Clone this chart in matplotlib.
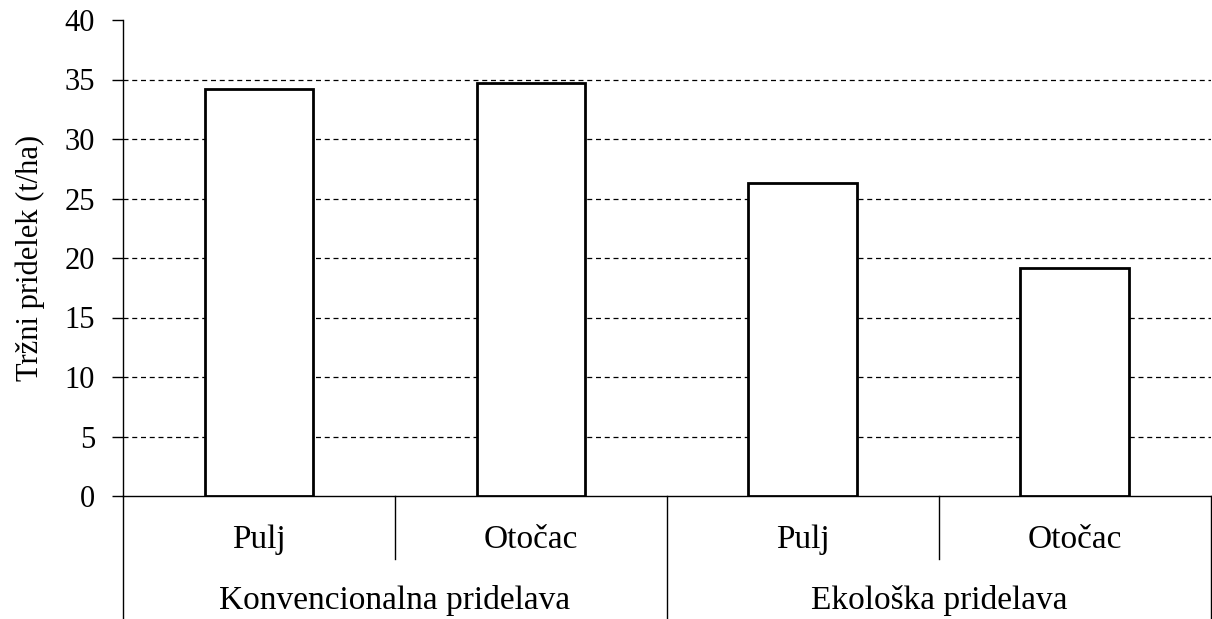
import matplotlib.pyplot as plt

plt.rcParams['font.family'] = ['Liberation Serif', 'DejaVu Serif']

groups = ['Konvencionalna pridelava', 'Ekološka pridelava']
locations = ['Pulj', 'Otočac', 'Pulj', 'Otočac']
yields = [34.2, 34.7, 26.3, 19.2]
y_ticks = [0, 5, 10, 15, 20, 25, 30, 35, 40]


def main():
    fig = plt.figure(figsize=(12.12, 6.19), dpi=100)
    ax = fig.add_axes([123 / 1212, 123 / 619, 1 - 123 / 1212 - 0.001, 476 / 619])

    x = list(range(len(yields)))
    ax.bar(x, yields, width=0.4, color='white', edgecolor='black', linewidth=2.0, zorder=3)

    ax.set_xlim(-0.5, len(yields) - 0.5)
    ax.set_ylim(0, 40)
    ax.set_yticks(y_ticks)
    ax.tick_params(axis='y', direction='out', length=8, width=1, labelsize=22, pad=12)
    ax.set_xticks([])
    for t in y_ticks[1:-1]:
        ax.axhline(t, color='black', linestyle=(0, (4, 3)), linewidth=0.9, zorder=1)

    for side in ['top', 'right']:
        ax.spines[side].set_visible(False)
    ax.spines['left'].set_linewidth(1)
    ax.spines['bottom'].set_linewidth(1)

    ax.set_ylabel('Tržni pridelek (t/ha)', fontsize=22, labelpad=14)

    # multi-level category axis
    trans = ax.get_xaxis_transform()
    sub_depth = -63 / 476
    full_depth = -123 / 476
    for i in range(len(locations) + 1):
        depth = full_depth if i % 2 == 0 else sub_depth
        ax.plot([i - 0.5, i - 0.5], [0, depth], color='black', linewidth=1,
                transform=trans, clip_on=False)
    for i, name in enumerate(locations):
        ax.text(i, -44 / 476, name, transform=trans, ha='center', va='center', fontsize=24)
    for g, name in enumerate(groups):
        ax.text(2 * g + 0.5, -104 / 476, name, transform=trans, ha='center', va='center',
                fontsize=24)

    fig.savefig('out.png', dpi=100)


if __name__ == '__main__':
    main()
